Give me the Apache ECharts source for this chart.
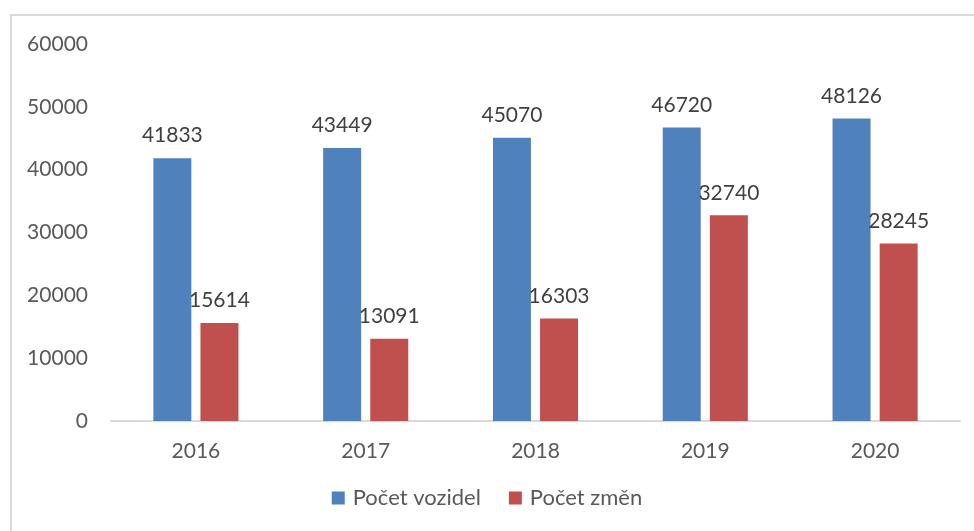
<!DOCTYPE html>
<html>
<head>
<meta charset="utf-8">
<script src="https://cdn.jsdelivr.net/npm/echarts@6/dist/echarts.min.js"></script>
<style>
  html, body { margin: 0; padding: 0; background: #fff; }
  #chart { width: 974px; height: 531px; }
</style>
</head>
<body>
<div id="chart"></div>
<script>
var years = ['2016', '2017', '2018', '2019', '2020'];
var vozidel = [41833, 43449, 45070, 46720, 48126];
var zmen = [15614, 13091, 16303, 32740, 28245];
var seriesNames = ['Počet vozidel', 'Počet změn'];

var myChart = echarts.init(document.getElementById('chart'));
var font = 'Lato, "Liberation Sans", sans-serif';

var labelStyle = {
  show: true,
  position: 'top',
  distance: 12,
  color: '#404040',
  fontSize: 21,
  fontFamily: font
};

var options = {
  animation: false,
  graphic: [{
    type: 'rect',
    shape: { x: 11, y: 15, width: 1000, height: 600 },
    style: { fill: 'none', stroke: '#d9d9d9', lineWidth: 2 }
  }],
  grid: { left: 111, right: 14, top: 44, bottom: 110 },
  legend: {
    data: seriesNames,
    bottom: 17,
    left: 'center',
    itemWidth: 13,
    itemHeight: 13,
    itemGap: 28,
    icon: 'rect',
    textStyle: { color: '#595959', fontSize: 22, fontFamily: font, padding: [0, 0, 0, 3] }
  },
  xAxis: {
    type: 'category',
    data: years,
    axisLine: { lineStyle: { color: '#d9d9d9', width: 2 } },
    axisTick: { show: false },
    axisLabel: { color: '#595959', fontSize: 21, fontFamily: font, margin: 20 }
  },
  yAxis: {
    type: 'value',
    min: 0,
    max: 60000,
    interval: 10000,
    splitLine: { show: false },
    axisLine: { show: false },
    axisTick: { show: false },
    axisLabel: {
      color: '#595959', fontSize: 21, fontFamily: font, margin: 23,
      formatter: function (v) { return String(v); }
    }
  },
  series: [
    {
      name: seriesNames[0],
      type: 'bar',
      data: vozidel,
      barWidth: 38,
      barGap: '24%',
      itemStyle: { color: '#4F81BD' },
      label: labelStyle
    },
    {
      name: seriesNames[1],
      type: 'bar',
      data: zmen,
      barWidth: 38,
      barGap: '24%',
      itemStyle: { color: '#C0504D' },
      label: labelStyle
    }
  ]
};
myChart.setOption(options);
</script>
</body>
</html>
